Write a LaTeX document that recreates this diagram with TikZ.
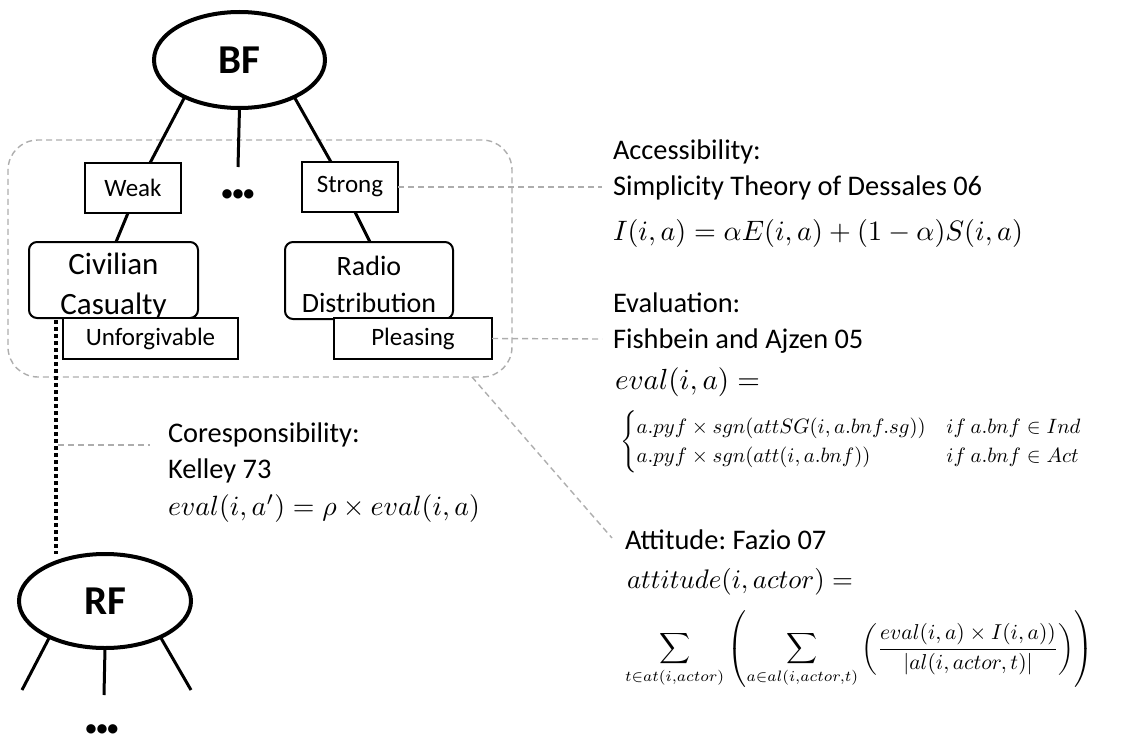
\documentclass[tikz,border=0pt]{standalone}
\usepackage{fontspec}
\setmainfont{Carlito}
\usepackage{amsmath}
\usepackage{graphicx}
\usetikzlibrary{shapes.geometric,calc}
\frenchspacing
\begin{document}
\begin{tikzpicture}[x=0.5pt,y=-0.5pt,
  every node/.style={inner sep=0pt, outer sep=0pt},
  factor/.style={ellipse, draw, line width=2pt, minimum width=85.5pt, minimum height=48pt, font=\fontsize{20.5}{24}\selectfont\bfseries},
  lbl/.style={draw, line width=1pt, fill=white, font=\fontsize{12.5}{14}\selectfont},
  ent/.style={draw, line width=1pt, rounded corners=4pt, fill=white},
  enttext/.style={align=center},
  link/.style={line width=1.5pt},
  guide/.style={draw=black!32, line width=0.7pt, dash pattern=on 3pt off 2pt},
  dotline/.style={line width=1.6pt, dash pattern=on 2pt off 1.5pt},
  ann/.style={anchor=base west, font=\fontsize{14.2}{17}\selectfont},
  frm/.style={anchor=west},
  ell/.style={font=\fontsize{11}{11}\selectfont\bfseries},
]
\useasboundingbox (0,0) rectangle (1145,738);
% group frame
\node[guide, rounded corners=15pt, minimum width=252pt, minimum height=118.5pt] (grp) at (260,258.5) {};
% tree nodes
\node[factor] (bf) at (239.5,60) {BF};
\node[lbl, minimum width=48pt, minimum height=25pt] (weak) at (133,188) {Weak};
\node[lbl, minimum width=48pt, minimum height=25pt] (strong) at (350,187) {Strong};
\node[ell] (dots1) at (238,195) {•••};
\node[ent, minimum width=84.5pt, minimum height=38pt] (civ) at (113.5,280) {};
\node[enttext, font=\fontsize{15.5}{20}\selectfont] (civT) at (113.5,286) {Civilian\\Casualty};
\node[ent, minimum width=84pt, minimum height=38.5pt] (radio) at (369,280.5) {};
\node[enttext, font=\fontsize{14}{18.5}\selectfont] (radioT) at (369,284) {Radio\\Distribution};
\node[lbl, minimum width=87.5pt, minimum height=20.5pt] (unf) at (150.5,338.5) {Unforgivable};
\node[lbl, minimum width=79pt, minimum height=20.5pt] (pls) at (413,338.5) {Pleasing};
\node[factor, minimum width=86pt, minimum height=47pt] (rf) at (105,601) {RF};
\node[ell] (dots2) at (102,730) {•••};
% free ends
\coordinate (accL) at (602,187);
\coordinate (evaL) at (602,339);
\coordinate (attA) at (472,377);
\coordinate (attB) at (612,538);
\coordinate (dTop) at (56,320);
\coordinate (coA) at (58,445);
\coordinate (coB) at (150,445);
\coordinate (rfL) at (22,690);
\coordinate (rfM) at (104,695);
\coordinate (rfR) at (191,690);
% connectors
\draw[link] (bf.214) -- ($(weak.north)+(17,0)$);
\draw[link] (bf.south) -- ($(dots1.center)+(0,-28)$);
\draw[link] (bf.326) -- ($(strong.north)+(-19,0)$);
\draw[link] ($(weak.south)+(-5,0)$) -- ($(civ.north)+(2.5,0)$);
\draw[link] ($(strong.south)+(5,0)$) -- ($(radio.north)+(1,0)$);
\draw[link] (rf.213) -- (rfL);
\draw[link] (rf.south) -- (rfM);
\draw[link] (rf.327) -- (rfR);
\draw[dotline] (dTop) -- (dTop |- rf.north);
\draw[guide] (strong.east) -- (accL);
\draw[guide] (pls.east) -- (evaL);
\draw[guide] (attA) -- (attB);
\draw[guide] (coA) -- (coB);
% annotations
\node[ann] (acc1) at (613,159) {Accessibility:};
\node[ann] (acc2) at (613,195) {Simplicity Theory of Dessales 06};
\node[frm] (acc3) at (613,233) {\resizebox{205pt}{!}{$I(i,a)=\alpha E(i,a)+(1-\alpha)S(i,a)$}};
\node[ann] (ev1) at (613,312) {Evaluation:};
\node[ann] (ev2) at (613,348) {Fishbein and Ajzen 05};
\node[frm] (ev3) at (615,382) {\resizebox{72.5pt}{!}{$eval(i,a)=$}};
\node[frm] (ev4) at (620,442) {\resizebox{231.5pt}{!}{$\begin{cases}a.pyf\times sgn(attSG(i,a.bnf.sg)) & if\ a.bnf\in Ind\\ a.pyf\times sgn(att(i,a.bnf)) & if\ a.bnf\in Act\end{cases}$}};
\node[ann] (co1) at (168,442) {Coresponsibility:};
\node[ann] (co2) at (168,478) {Kelley 73};
\node[frm] (co3) at (168,509) {\resizebox{156pt}{!}{$eval(i,a')=\rho\times eval(i,a)$}};
\node[ann] (at1) at (625,549) {Attitude: Fazio 07};
\node[frm] (at2) at (627,582) {\resizebox{113pt}{!}{$attitude(i,actor)=$}};
\node[frm] (at3) at (625,649) {\resizebox{234pt}{!}{$\displaystyle\sum_{t\in at(i,actor)}\left(\sum_{a\in al(i,actor,t)}\left(\frac{eval(i,a)\times I(i,a))}{|al(i,actor,t)|}\right)\right)$}};
\end{tikzpicture}
\end{document}
